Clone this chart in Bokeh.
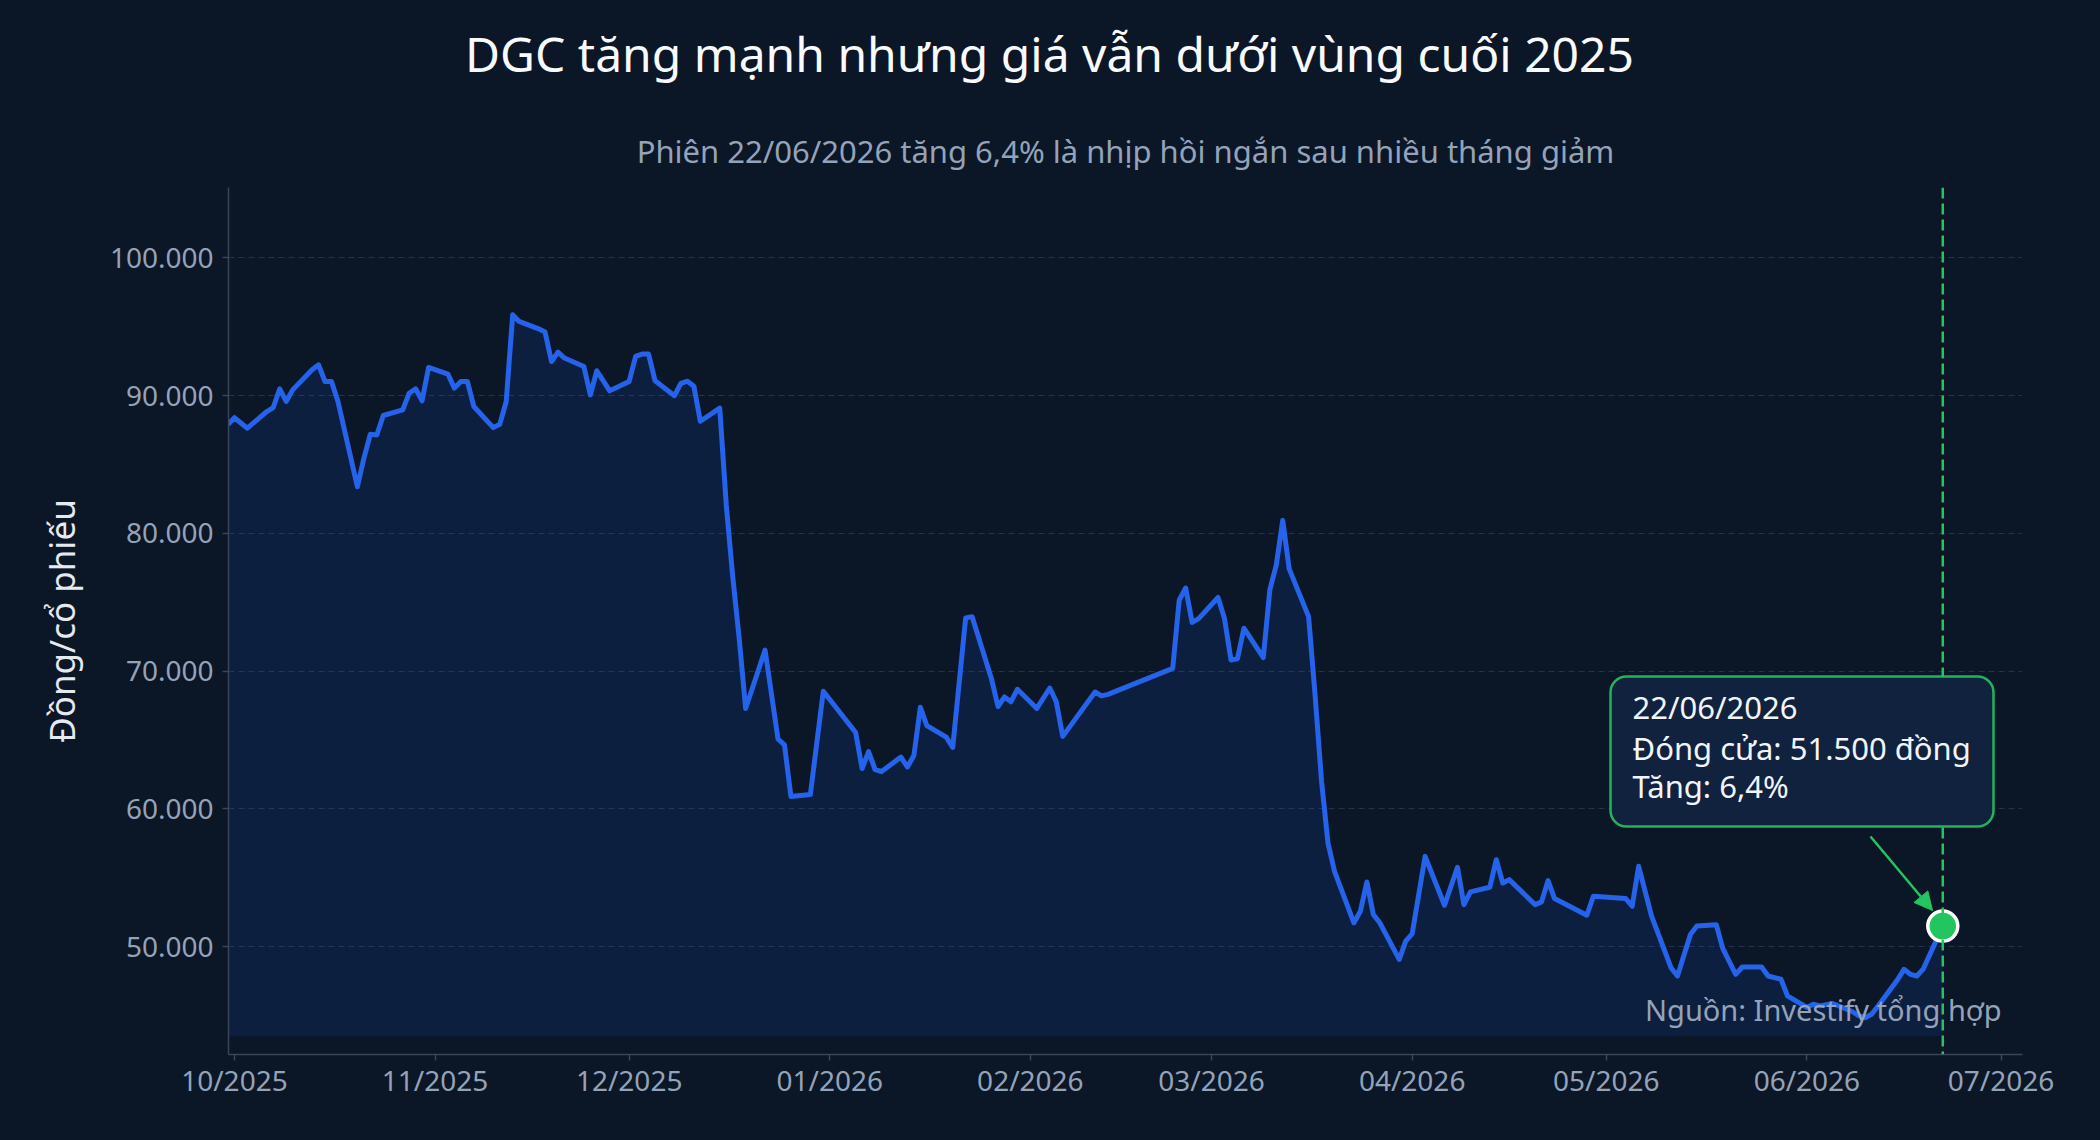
import pandas as pd
from bokeh.plotting import figure
from bokeh.layouts import column
from bokeh.models import (Range1d, FixedTicker, DatetimeTickFormatter, CustomJSTickFormatter,
                          Span, Label, BoxAnnotation, Arrow, NormalHead, ColumnDataSource)
from bokeh.embed import file_html
from bokeh.resources import INLINE

# ---------------- data ----------------
dates = [
    "2025-09-30", "2025-10-01", "2025-10-03", "2025-10-06", "2025-10-07", "2025-10-08", "2025-10-09",
    "2025-10-10", "2025-10-13", "2025-10-14", "2025-10-15", "2025-10-16", "2025-10-17", "2025-10-20",
    "2025-10-21", "2025-10-22", "2025-10-23", "2025-10-24", "2025-10-27", "2025-10-28", "2025-10-29",
    "2025-10-30", "2025-10-31", "2025-11-03", "2025-11-04", "2025-11-05", "2025-11-06", "2025-11-07",
    "2025-11-10", "2025-11-11", "2025-11-12", "2025-11-13", "2025-11-14", "2025-11-17", "2025-11-18",
    "2025-11-19", "2025-11-20", "2025-11-21", "2025-11-24", "2025-11-25", "2025-11-26", "2025-11-28",
    "2025-12-01", "2025-12-02", "2025-12-03", "2025-12-04", "2025-12-05", "2025-12-08", "2025-12-09",
    "2025-12-10", "2025-12-11", "2025-12-12", "2025-12-15", "2025-12-16", "2025-12-17", "2025-12-18",
    "2025-12-19", "2025-12-22", "2025-12-24", "2025-12-25", "2025-12-26", "2025-12-29", "2025-12-31",
    "2026-01-05", "2026-01-06", "2026-01-07", "2026-01-08", "2026-01-09", "2026-01-12", "2026-01-13",
    "2026-01-14", "2026-01-15", "2026-01-16", "2026-01-19", "2026-01-20", "2026-01-22", "2026-01-23",
    "2026-01-26", "2026-01-27", "2026-01-28", "2026-01-29", "2026-01-30", "2026-02-02", "2026-02-04",
    "2026-02-05", "2026-02-06", "2026-02-11", "2026-02-12", "2026-02-13", "2026-02-23", "2026-02-24",
    "2026-02-25", "2026-02-26", "2026-02-27", "2026-03-02", "2026-03-03", "2026-03-04", "2026-03-05",
    "2026-03-06", "2026-03-09", "2026-03-10", "2026-03-11", "2026-03-12", "2026-03-13", "2026-03-16",
    "2026-03-17", "2026-03-18", "2026-03-19", "2026-03-20", "2026-03-23", "2026-03-24", "2026-03-25",
    "2026-03-26", "2026-03-27", "2026-03-30", "2026-03-31", "2026-04-01", "2026-04-03", "2026-04-06",
    "2026-04-08", "2026-04-09", "2026-04-10", "2026-04-13", "2026-04-14", "2026-04-15", "2026-04-16",
    "2026-04-20", "2026-04-21", "2026-04-22", "2026-04-23", "2026-04-28", "2026-04-29", "2026-05-04",
    "2026-05-05", "2026-05-06", "2026-05-08", "2026-05-11", "2026-05-12", "2026-05-14", "2026-05-15",
    "2026-05-18", "2026-05-19", "2026-05-21", "2026-05-22", "2026-05-25", "2026-05-26", "2026-05-28",
    "2026-05-29", "2026-06-01", "2026-06-02", "2026-06-03", "2026-06-04", "2026-06-05", "2026-06-08",
    "2026-06-09", "2026-06-10", "2026-06-11", "2026-06-12", "2026-06-15", "2026-06-16", "2026-06-17",
    "2026-06-18", "2026-06-19", "2026-06-22",
]
prices = [
    87900, 88400, 87640, 88850, 89140, 90500, 89580,
    90420, 91880, 92240, 91030, 91030, 89580, 83390,
    85450, 87200, 87150, 88560, 88970, 90180, 90500,
    89630, 92050, 91560, 90550, 91030, 91030, 89210,
    87680, 87920, 89580, 95880, 95390, 94850, 94620,
    92480, 93160, 92730, 92120, 90060, 91810, 90350,
    91030, 92850, 93020, 93020, 91080, 90000, 90900,
    91050, 90680, 88140, 89100, 82100, 76900, 72400,
    67300, 71540, 65080, 64660, 60910, 61050, 68550,
    65550, 62940, 64170, 62860, 62720, 63770, 63050,
    63880, 67380, 66050, 65210, 64470, 73870, 73960,
    69430, 67440, 68130, 67780, 68690, 67300, 68780,
    67780, 65270, 68490, 68210, 68320, 70210, 75150,
    76040, 73540, 73820, 75350, 73820, 70820, 70900,
    73120, 70990, 75900, 77700, 80950, 77430, 73960,
    68260, 62000, 57500, 55480, 51740, 52580, 54700,
    52340, 51740, 49080, 50410, 50940, 56560, 53010,
    55770, 53060, 53980, 54320, 56320, 54630, 54870,
    53060, 53260, 54800, 53500, 52290, 53670, 53500,
    52940, 55840, 52220, 48480, 47880, 50890, 51500,
    51600, 49880, 48000, 48530, 48530, 47880, 47640,
    46430, 45600, 45830, 45710, 45800, 45880, 45300,
    45000, 44850, 45100, 45700, 47600, 48360, 48000,
    47880, 48400, 51500,
]
fill_base = 43500
month_ticks = ["2025-10-01", "2025-11-01", "2025-12-01", "2026-01-01", "2026-02-01",
               "2026-03-01", "2026-04-01", "2026-05-01", "2026-06-01", "2026-07-01"]
y_ticks = [50000, 60000, 70000, 80000, 90000, 100000]
highlight_date = "2026-06-22"
highlight_price = 51500
highlight_change = "6,4"

title_text = "DGC tăng mạnh nhưng giá vẫn dưới vùng cuối 2025"
subtitle_text = "Phiên 22/06/2026 tăng 6,4% là nhịp hồi ngắn sau nhiều tháng giảm"
y_label = "Đồng/cổ phiếu"
source_text = "Nguồn: Investify tổng hợp"

# ---------------- style ----------------
BG = "#0b1627"
LINE = "#2563eb"
GREEN = "#22c55e"
MUTED = "#94a3b8"
FONT = "Noto Sans"
W, HEAD_H, MAIN_H = 2100, 187, 953
FRAME_L, FRAME_R = 228, 2022

x = pd.to_datetime(dates)
src = ColumnDataSource(dict(x=x, y=prices, base=[fill_base] * len(prices)))

def ms(d):
    return pd.Timestamp(d).value // 10**6

# ---------------- header (title + subtitle); its frame aligns with the chart frame ----------------
hdr = figure(width=W, height=HEAD_H, x_range=Range1d(FRAME_L, FRAME_R), y_range=Range1d(0, HEAD_H),
             output_backend="svg", toolbar_location=None,
             x_axis_location=None, y_axis_location=None, min_border=0,
             min_border_left=FRAME_L, min_border_right=W - FRAME_R,
             background_fill_color=BG, border_fill_color=BG)
hdr.outline_line_color = None
hdr.grid.visible = False
hdr.add_layout(Label(x=1049, y=134, text=title_text, text_font=FONT, text_font_size="48px",
                     text_color="#f8fafc", text_align="center", text_baseline="alphabetic"))
hdr.add_layout(Label(x=1125, y=37, text=subtitle_text, text_font=FONT, text_font_size="31px",
                     text_color=MUTED, text_align="center", text_baseline="alphabetic"))

# ---------------- main chart ----------------
p = figure(width=W, height=MAIN_H, x_axis_type="datetime",
           output_backend="svg", toolbar_location=None,
           x_range=Range1d(ms("2025-09-30 02:00"), ms("2026-07-04 07:40")),
           y_range=Range1d(42180, 105110),
           min_border_left=FRAME_L, min_border_right=W - FRAME_R, min_border_top=0, min_border_bottom=86,
           background_fill_color=BG, border_fill_color=BG)
p.outline_line_color = None

p.varea(x="x", y1="base", y2="y", source=src, fill_color=LINE, fill_alpha=0.12)
p.line(x="x", y="y", source=src, line_color=LINE, line_width=5, line_join="round")

p.xaxis.ticker = FixedTicker(ticks=[ms(d) for d in month_ticks])
fmt = "%m/%Y"
p.xaxis.formatter = DatetimeTickFormatter(microseconds=fmt, milliseconds=fmt, seconds=fmt,
                                          minsec=fmt, minutes=fmt, hourmin=fmt, hours=fmt,
                                          days=fmt, months=fmt, years=fmt)
p.yaxis.ticker = FixedTicker(ticks=y_ticks)
p.yaxis.formatter = CustomJSTickFormatter(
    code=r"return Math.round(tick).toString().replace(/\B(?=(\d{3})+(?!\d))/g, '.');")
for ax in (p.xaxis[0], p.yaxis[0]):
    ax.axis_line_color = "#3a4658"
    ax.axis_line_width = 1.5
    ax.major_tick_line_color = "#3a4658"
    ax.major_tick_line_width = 1.5
    ax.major_tick_out = 6
    ax.major_tick_in = 0
    ax.minor_tick_line_color = None
    ax.major_label_text_font = FONT
    ax.major_label_text_font_size = "28px"
    ax.major_label_text_color = MUTED
p.xaxis.major_label_standoff = 0
p.yaxis.major_label_standoff = 9
p.yaxis.axis_label = y_label
p.yaxis.axis_label_text_font = FONT
p.yaxis.axis_label_text_font_size = "35px"
p.yaxis.axis_label_text_font_style = "normal"
p.yaxis.axis_label_text_color = "#e5e9f0"
p.yaxis.axis_label_standoff = 22

p.xgrid.visible = False
p.ygrid.ticker = FixedTicker(ticks=y_ticks)
p.ygrid.grid_line_color = "#24324a"
p.ygrid.grid_line_dash = "6 4"
p.ygrid.grid_line_width = 1.2

# highlight
hx = ms(highlight_date)
p.add_layout(Span(location=hx, dimension="height", line_color=GREEN,
                  line_dash="11 5", line_width=2.5))
p.scatter(x=[pd.Timestamp(highlight_date)], y=[highlight_price], size=30,
          fill_color=GREEN, line_color="white", line_width=3.5)

# annotation box (screen units relative to the plot frame)
p.add_layout(BoxAnnotation(left=1382, right=1765, bottom=228, top=378,
                           left_units="screen", right_units="screen",
                           bottom_units="screen", top_units="screen",
                           fill_color="#11223f", fill_alpha=1.0,
                           line_color=GREEN, line_width=2.5, line_alpha=0.9,
                           border_radius=16, level="annotation"))
hd = pd.Timestamp(highlight_date)
price_str = f"{highlight_price:,}".replace(",", ".")
ann_lines = [hd.strftime("%d/%m/%Y"), f"Đóng cửa: {price_str} đồng", f"Tăng: {highlight_change}%"]
for txt, yy in zip(ann_lines, [348, 307, 269]):
    p.add_layout(Label(x=1404, y=yy, x_units="screen", y_units="screen", text=txt,
                       text_font=FONT, text_font_size="31px", text_color="#f1f5f9",
                       text_align="left", text_baseline="alphabetic"))

p.add_layout(Arrow(x_start=1642, y_start=218, x_end=1704, y_end=144,
                   start_units="screen", end_units="screen",
                   line_color=GREEN, line_width=2.5,
                   end=NormalHead(size=18, fill_color=GREEN, line_color=GREEN)))

p.add_layout(Label(x=1773, y=45, x_units="screen", y_units="screen", text=source_text,
                   text_font=FONT, text_font_size="29px", text_color=MUTED,
                   text_align="right", text_baseline="alphabetic"))

layout = column(hdr, p, spacing=0)
html = file_html(layout, INLINE, title="DGC")
html = html.replace("</head>", "<style>html, body { background-color: %s; }</style></head>" % BG, 1)
open("out.html", "w").write(html)
